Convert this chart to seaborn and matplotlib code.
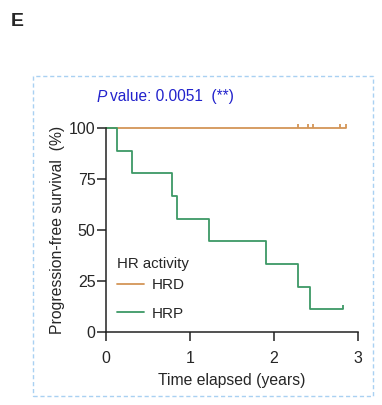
import matplotlib
matplotlib.use("Agg")
import matplotlib.pyplot as plt
import seaborn as sns
import pandas as pd
from matplotlib.patches import Rectangle
from matplotlib.lines import Line2D

# ---- data ----
groups = ["HRD", "HRP"]
hrd_time = [0, 2.86]
hrd_surv = [100, 100]
hrd_censor_time = [2.28, 2.41, 2.46, 2.78, 2.86]
hrd_censor_surv = [100, 100, 100, 100, 100]
hrp_time = [0, 0.13, 0.31, 0.79, 0.84, 1.23, 1.91, 2.28, 2.43, 2.82]
hrp_surv = [100, 88.9, 77.8, 66.7, 55.6, 44.4, 33.3, 22.2, 11.1, 11.1]
hrp_censor_time = [2.82]
hrp_censor_surv = [11.1]
x_ticks = [0, 1, 2, 3]
y_ticks = [0, 25, 50, 75, 100]
p_text = "value: 0.0051  (**)"
legend_title = "HR activity"
colors = {"HRD": "#d39557", "HRP": "#3d9966"}

curves = pd.DataFrame({
    "time": hrd_time + hrp_time,
    "surv": hrd_surv + hrp_surv,
    "group": ["HRD"] * len(hrd_time) + ["HRP"] * len(hrp_time),
})
cens = pd.DataFrame({
    "time": hrd_censor_time + hrp_censor_time,
    "surv": hrd_censor_surv + hrp_censor_surv,
    "group": ["HRD"] * len(hrd_censor_time) + ["HRP"] * len(hrp_censor_time),
})

sns.set_theme(style="ticks")
plt.rcParams["font.family"] = ["Liberation Sans", "DejaVu Sans"]

W, H = 382, 405
fig = plt.figure(figsize=(W / 100, H / 100), dpi=100)

def fx(px):
    return px / W

def fy(py):
    return 1 - py / H

ax = fig.add_axes([fx(106), fy(332), fx(358) - fx(106), fy(128) - fy(332)])

sns.lineplot(data=curves, x="time", y="surv", hue="group", hue_order=groups,
             palette=colors, drawstyle="steps-post", estimator=None,
             linewidth=1.3, ax=ax, legend=False, clip_on=False)
tick_marker = [(0, 0), (0, 1)]
for g in groups:
    sub = cens[cens["group"] == g]
    ax.scatter(sub["time"], sub["surv"], marker=tick_marker, s=40,
               color=colors[g], linewidths=1.3, clip_on=False, zorder=3)

ax.set_xlim(0, 3)
ax.set_ylim(0, 100)
ax.set_xticks(x_ticks)
ax.set_yticks(y_ticks)
ax.tick_params(axis="both", direction="out", length=6.5, width=1.1,
               labelsize=11.5, color="#222222")
ax.tick_params(axis="y", pad=1)
ax.tick_params(axis="x", pad=7)
for s in ["top", "right"]:
    ax.spines[s].set_visible(False)
for s in ["left", "bottom"]:
    ax.spines[s].set_linewidth(1.1)
    ax.spines[s].set_color("#222222")
ax.set_facecolor("none")

ax.set_xlabel("Time elapsed (years)", fontsize=11.3, labelpad=5)
ax.set_ylabel("Progression-free survival  (%)", fontsize=11.3, labelpad=3)

fig.text(fx(117), fy(264), legend_title, fontsize=10.8, va="center", ha="left")
handles = [Line2D([], [], color=colors[g], linewidth=1.3) for g in groups]
leg = ax.legend(handles, groups, loc="upper left",
                bbox_to_anchor=(fx(117), fy(278)), bbox_transform=fig.transFigure,
                frameon=False, fontsize=11,
                handlelength=1.75, handletextpad=0.5, labelspacing=0.95,
                borderpad=0, borderaxespad=0)

fig.text(fx(97), fy(97), "P", fontsize=11.2, style="italic", color="#2222cc",
         va="center", ha="left")
fig.text(fx(110), fy(97), p_text, fontsize=11.2, color="#2222cc",
         va="center", ha="left")

fig.text(fx(11), fy(22), "E", fontsize=14, fontweight="bold", va="center", ha="left")

rect = Rectangle((fx(33), fy(396)), fx(373) - fx(33), fy(76) - fy(396),
                 transform=fig.transFigure, fill=False, edgecolor="#a9d1f2",
                 linestyle=(0, (3, 2)), linewidth=1.0)
fig.patches.append(rect)

fig.savefig("out.png", dpi=100)
